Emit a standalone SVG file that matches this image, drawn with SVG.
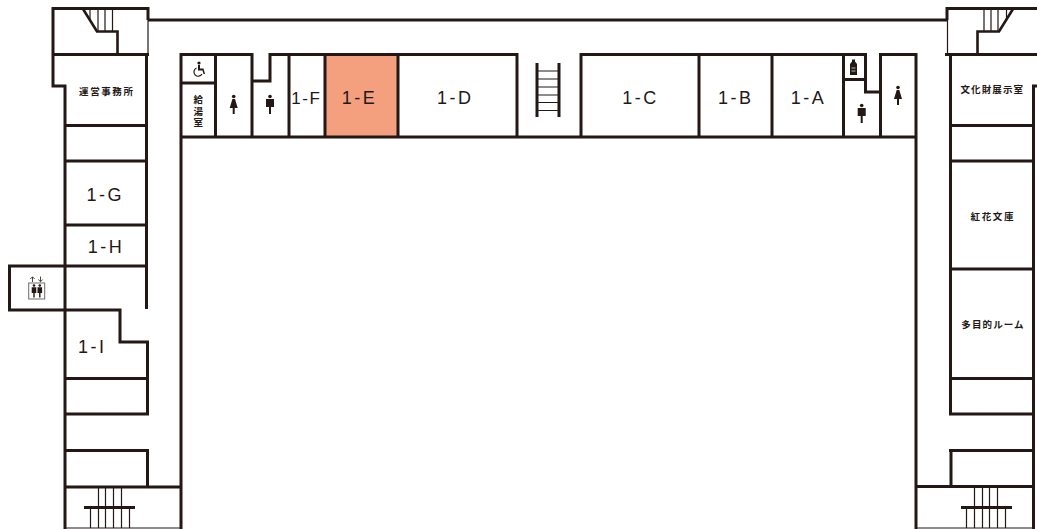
<svg xmlns="http://www.w3.org/2000/svg" width="1037" height="529" viewBox="0 0 1037 529">
<style>
.w{fill:none;stroke:#231815;stroke-width:3}
.d{fill:none;stroke:#231815;stroke-width:2.600}
.t{fill:none;stroke:#231815;stroke-width:1.200}
.k{fill:#231815;stroke:none}
.r{font-family:"Liberation Sans",Arial,sans-serif;font-size:18px;letter-spacing:2.500px;fill:#231815;text-anchor:middle}
.j{font-family:"Noto Sans CJK JP",sans-serif;font-size:9.500px;font-weight:700;letter-spacing:1.600px;fill:#231815;text-anchor:middle}
</style>
<defs>
<g id="man"><circle cx="0" cy="-7.500" r="1.800" class="k"/><path class="k" d="M-4-5H4V3H1V10H-1V3H-4Z"/></g>
<g id="woman"><circle cx="0" cy="-7.500" r="1.800" class="k"/><path class="k" d="M-1.300-5H1.300L4 4H1V10H-1V4H-4Z"/></g>
</defs>
<rect id="room-1E-fill" x="325" y="54" width="73" height="83" fill="#F4A07E"/>
<g id="walls-left">
<path class="w" d="M148 20V8.500H53V86H65V529M53 54.500H149M146.500 54V309M65 125.500H146M65 161H146M65 225H146M65 266H146M65 266H9.500V310H120V342H147.500V414H65M65 378.500H147M65 450.500H147.500V487M65 487H181"/>
<path class="d" d="M83 9L97 31.500H117.500V54"/>
<path class="t" d="M90 9V20M98 9V31M105 9V31M112.500 9V31M148 20V54M65 528H181"/>
<path class="w" d="M84 507.500H135"/>
<path class="t" d="M98.500 487V507M105.500 487V507M113.500 487V507M121.500 487V507M90.500 507V528M98.500 507V528M105.500 507V528M113.500 507V528M121.500 507V528M129.500 507V528"/>
</g>
<g id="walls-centre">
<path class="w" d="M148 20H947M181 529V54.500H252V81H270V54.500H517V137M181 137H916M215.500 54V137M181 83H215.500M252 81V137M289 54V137M325 54V137M398 54V137"/>
<path class="w" d="M581 137V54.500H865.500V92H880.500V54.500H916V529M699 54V137M772 54V137M843.500 54V137M843.500 79.500H866M880.500 92V137"/>
<path class="w" d="M537 63V117M559 63V117"/>
<path class="t" d="M537 71H559M537 79H559M537 87H559M537 95H559M537 102.500H559M537 110.500H559"/>
</g>
<g id="walls-right">
<path class="w" d="M947 20V8.500H1037M945 54.500H1037M950.500 54V414H1033M1037 86H1033.500V529M951 125.500H1033M951 161H1033M951 269H1033M951 378.500H1033M951 450.500V487M949 450.500H1033M916 486.500H1033"/>
<path class="d" d="M1013 9L999 31.500H977.500V54"/>
<path class="t" d="M984 9V31M991 9V31M998 9V31M1006.500 9V20M947.500 20V54M916 528H1033"/>
<path class="w" d="M961 507.500H1012"/>
<path class="t" d="M974.500 487V507M982.500 487V507M989.500 487V507M997.500 487V507M966.500 507V528M974.500 507V528M982.500 507V528M989.500 507V528M997.500 507V528M1005.500 507V528"/>
</g>
<g id="labels">
<text class="j" x="106.800" y="94.500">運営事務所</text>
<text class="j" x="992.300" y="93" style="letter-spacing:1.100px">文化財展示室</text>
<text class="j" x="992.800" y="219.500">紅花文庫</text>
<text class="j" x="993" y="327.500" style="letter-spacing:1.100px">多目的ルーム</text>
<text class="j" x="198.300" y="95" style="writing-mode:vertical-rl;text-anchor:start;letter-spacing:2px">給湯室</text>
<text class="r" x="105.200" y="200.500">1-G</text>
<text class="r" x="106" y="252.500">1-H</text>
<text class="r" x="92.200" y="352.500">1-I</text>
<text class="r" x="306.300" y="104" style="font-size:17px;letter-spacing:1.500px">1-F</text>
<text class="r" x="359.500" y="104">1-E</text>
<text class="r" x="455.200" y="104">1-D</text>
<text class="r" x="640.400" y="104">1-C</text>
<text class="r" x="735.700" y="104">1-B</text>
<text class="r" x="808.400" y="104">1-A</text>
</g>
<g id="icons">
<g id="icon-wheelchair"><circle cx="199" cy="63" r="1.600" class="k"/><path class="k" d="M198 65H200V68.500H203.500L205 74H203.500L202.500 70.500H198Z"/><path d="M196.500 68A4.300 4.300 0 1 0 202 74" fill="none" stroke="#231815" stroke-width="1.200"/></g>
<use href="#woman" x="233.700" y="104"/>
<use href="#man" x="270" y="104"/>
<use href="#man" x="861.700" y="113"/>
<use href="#woman" x="898" y="95"/>
<g id="icon-baby"><path class="k" d="M852 59.500H855V61.500L857 64V75H850V64L852 61.500Z"/><path d="M851.500 68H855.500M851.500 71H855.500" stroke="#fff" stroke-width=".7"/></g>
<g id="icon-elevator">
<rect x="28.700" y="283" width="16" height="16" fill="none" stroke="#6f6b6a" stroke-width="1"/>
<circle cx="34" cy="285.500" r="1.300" class="k"/><circle cx="39.800" cy="285.500" r="1.300" class="k"/>
<path class="k" d="M31.700 287.300H36.300V293H34.700V297.500H33.300V293H31.700ZM37.500 287.300H42.100V293H40.500V297.500H39.100V293H37.500Z"/>
<path d="M32.500 282V277M30.300 279L32.500 276.800L34.700 279M40.500 276.500V281.500M38.300 279.500L40.500 281.700L42.700 279.500" fill="none" stroke="#231815" stroke-width=".8"/>
</g>
</g>
</svg>
